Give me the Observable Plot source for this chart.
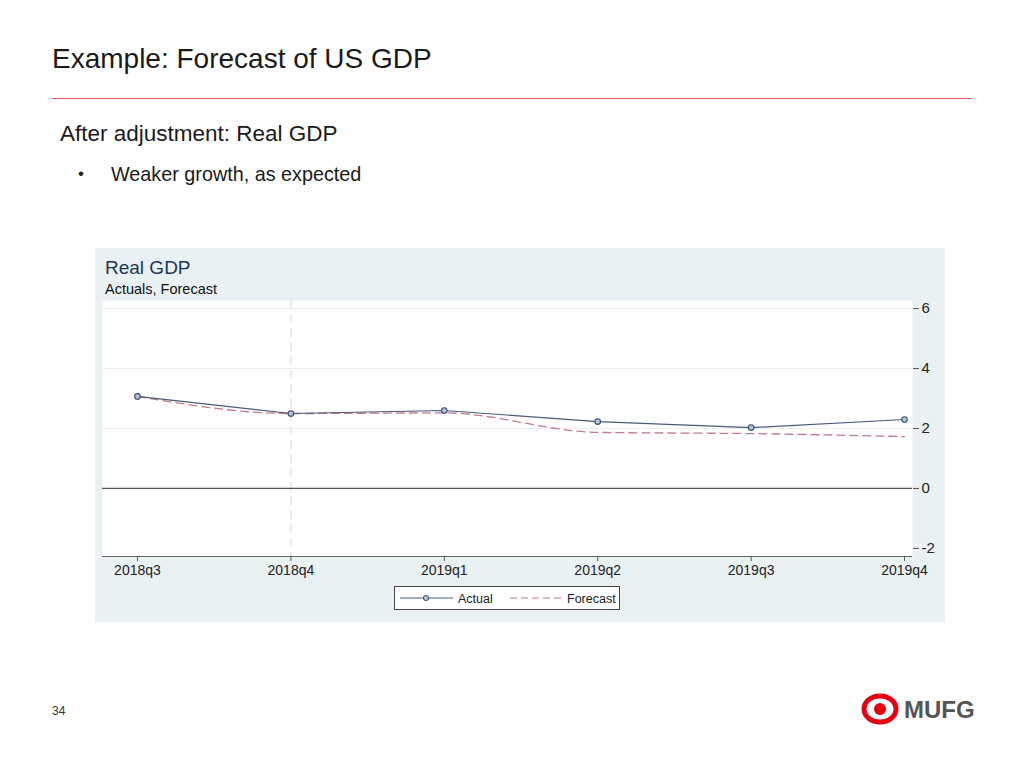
<!DOCTYPE html>
<html>
<head>
<meta charset="utf-8">
<script src="https://cdn.jsdelivr.net/npm/d3@7"></script>
<script src="https://cdn.jsdelivr.net/npm/@observablehq/plot@0.6"></script>
<style>
  html, body { margin: 0; padding: 0; background: #fff; }
  body { width: 1024px; height: 768px; position: relative; overflow: hidden; font-family: "Liberation Sans", Arial, sans-serif; color: #1a1a1a; }
  .abs { position: absolute; white-space: nowrap; line-height: 1.15; }
  #title { left: 52px; top: 43px; font-size: 28px; color: #1a1a1a; }
  #rule { left: 52px; top: 98px; width: 920px; height: 0; border-top: 1.5px solid #e05a5a; }
  #sub { left: 60px; top: 121px; font-size: 22.5px; color: #1a1a1a; }
  #bullet { left: 78px; top: 164px; font-size: 17px; }
  #btxt { left: 111px; top: 163px; font-size: 19.8px; color: #1a1a1a; }
  #pg { left: 52px; top: 705px; font-size: 12px; color: #333; }
  #panel { left: 95px; top: 248px; width: 850px; height: 374px; background: #eaf1f3; }
  #ctitle { left: 105px; top: 257px; font-size: 19px; color: #1f3556; }
  #csub { left: 105px; top: 281px; font-size: 14.5px; color: #111; }
  #chart { left: 95px; top: 290px; }
  #legend { left: 394px; top: 586px; width: 226px; height: 24px; background: #fff; border: 1px solid #444; box-sizing: border-box; font-size: 12.5px; color: #222; }
  #logo { left: 860px; top: 693px; }
</style>
</head>
<body>
<div id="title" class="abs">Example: Forecast of US GDP</div>
<div id="rule" class="abs"></div>
<div id="sub" class="abs">After adjustment: Real GDP</div>
<div id="bullet" class="abs">•</div>
<div id="btxt" class="abs">Weaker growth, as expected</div>
<div id="panel" class="abs"></div>
<div id="ctitle" class="abs">Real GDP</div>
<div id="csub" class="abs">Actuals, Forecast</div>
<div id="chart" class="abs"></div>
<div id="legend" class="abs"></div>
<div id="pg" class="abs">34</div>
<div id="logo" class="abs">
  <svg width="115" height="32" viewBox="0 0 115 32">
    <ellipse cx="20" cy="16" rx="16" ry="13" fill="none" stroke="#e60012" stroke-width="5"/>
    <circle cx="20" cy="16" r="6" fill="#e60012"/>
    <text x="44" y="25" font-family="Liberation Sans, Arial, sans-serif" font-weight="bold" font-size="24" fill="#555">MUFG</text>
  </svg>
</div>
<script>
const quarters = ["2018q3", "2018q4", "2019q1", "2019q2", "2019q3", "2019q4"];
const actual   = [3.07, 2.50, 2.60, 2.23, 2.03, 2.30];
const forecast = [3.07, 2.50, 2.52, 1.87, 1.83, 1.73];
const yTicks = [-2, 0, 2, 4, 6];
const gridTicks = [2, 4, 6];
const forecastStart = "2018q4";

const actualData = quarters.map((q, i) => ({i, q, v: actual[i]}));
const forecastData = quarters.map((q, i) => ({i, q, v: forecast[i]}));
const hyphen = d => String(d).replace("−", "-");

const chart = Plot.plot({
  width: 850,
  height: 295,
  marginLeft: 7,
  marginRight: 33,
  marginTop: 10,
  marginBottom: 29,
  style: {background: "transparent", fontFamily: "'Liberation Sans', Arial, sans-serif", fontSize: "14px", color: "#222"},
  x: {type: "linear", domain: [-0.228, 5.052], ticks: quarters.map((q, i) => i), tickFormat: i => quarters[i], label: null},
  y: {domain: [-2.27, 6.27], ticks: yTicks, label: null},
  marks: [
    Plot.frame({fill: "white", stroke: null}),
    Plot.ruleY(gridTicks, {stroke: "#eeeeee", strokeWidth: 1}),
    Plot.ruleX([quarters.indexOf(forecastStart)], {stroke: "#dcdcdc", strokeWidth: 1.2, strokeDasharray: "9,5"}),
    Plot.ruleY([0], {stroke: "#555", strokeWidth: 1.2}),
    Plot.axisY({anchor: "right", ticks: yTicks, tickFormat: d => (d < 0 ? "-" : "") + Math.abs(d), tickSize: 6, tickPadding: 3, fontSize: 15, stroke: "#555", label: null}),
    Plot.axisX({ticks: quarters.map((q, i) => i), tickFormat: i => quarters[i], tickSize: 5, tickPadding: 4, fontSize: 14, stroke: "#555", label: null}),
    Plot.ruleY([-2.27], {stroke: "#666", strokeWidth: 1}),
    Plot.lineY(forecastData, {x: "i", y: "v", stroke: "#c47a8a", strokeWidth: 1.3, strokeDasharray: "8,5", curve: "monotone-x"}),
    Plot.lineY(actualData, {x: "i", y: "v", stroke: "#4a5a7c", strokeWidth: 1.2}),
    Plot.dot(actualData, {x: "i", y: "v", r: 2.8, fill: "#b4c4d4", stroke: "#3a4c6e", strokeWidth: 1.1})
  ]
});
document.getElementById("chart").appendChild(chart);

document.getElementById("legend").innerHTML = `
<svg width="224" height="22" style="display:block">
  <line x1="5" y1="11" x2="58" y2="11" stroke="#4a5a7c" stroke-width="1.2"/>
  <circle cx="31" cy="11" r="2.6" fill="#b4c4d4" stroke="#3a4c6e" stroke-width="1"/>
  <text x="63" y="15.5" font-family="Liberation Sans, Arial, sans-serif" font-size="12.5" fill="#222">Actual</text>
  <line x1="115" y1="11" x2="168" y2="11" stroke="#c47a8a" stroke-width="1.2" stroke-dasharray="7,4"/>
  <text x="172" y="15.5" font-family="Liberation Sans, Arial, sans-serif" font-size="12.5" fill="#222">Forecast</text>
</svg>`;
</script>
</body>
</html>
